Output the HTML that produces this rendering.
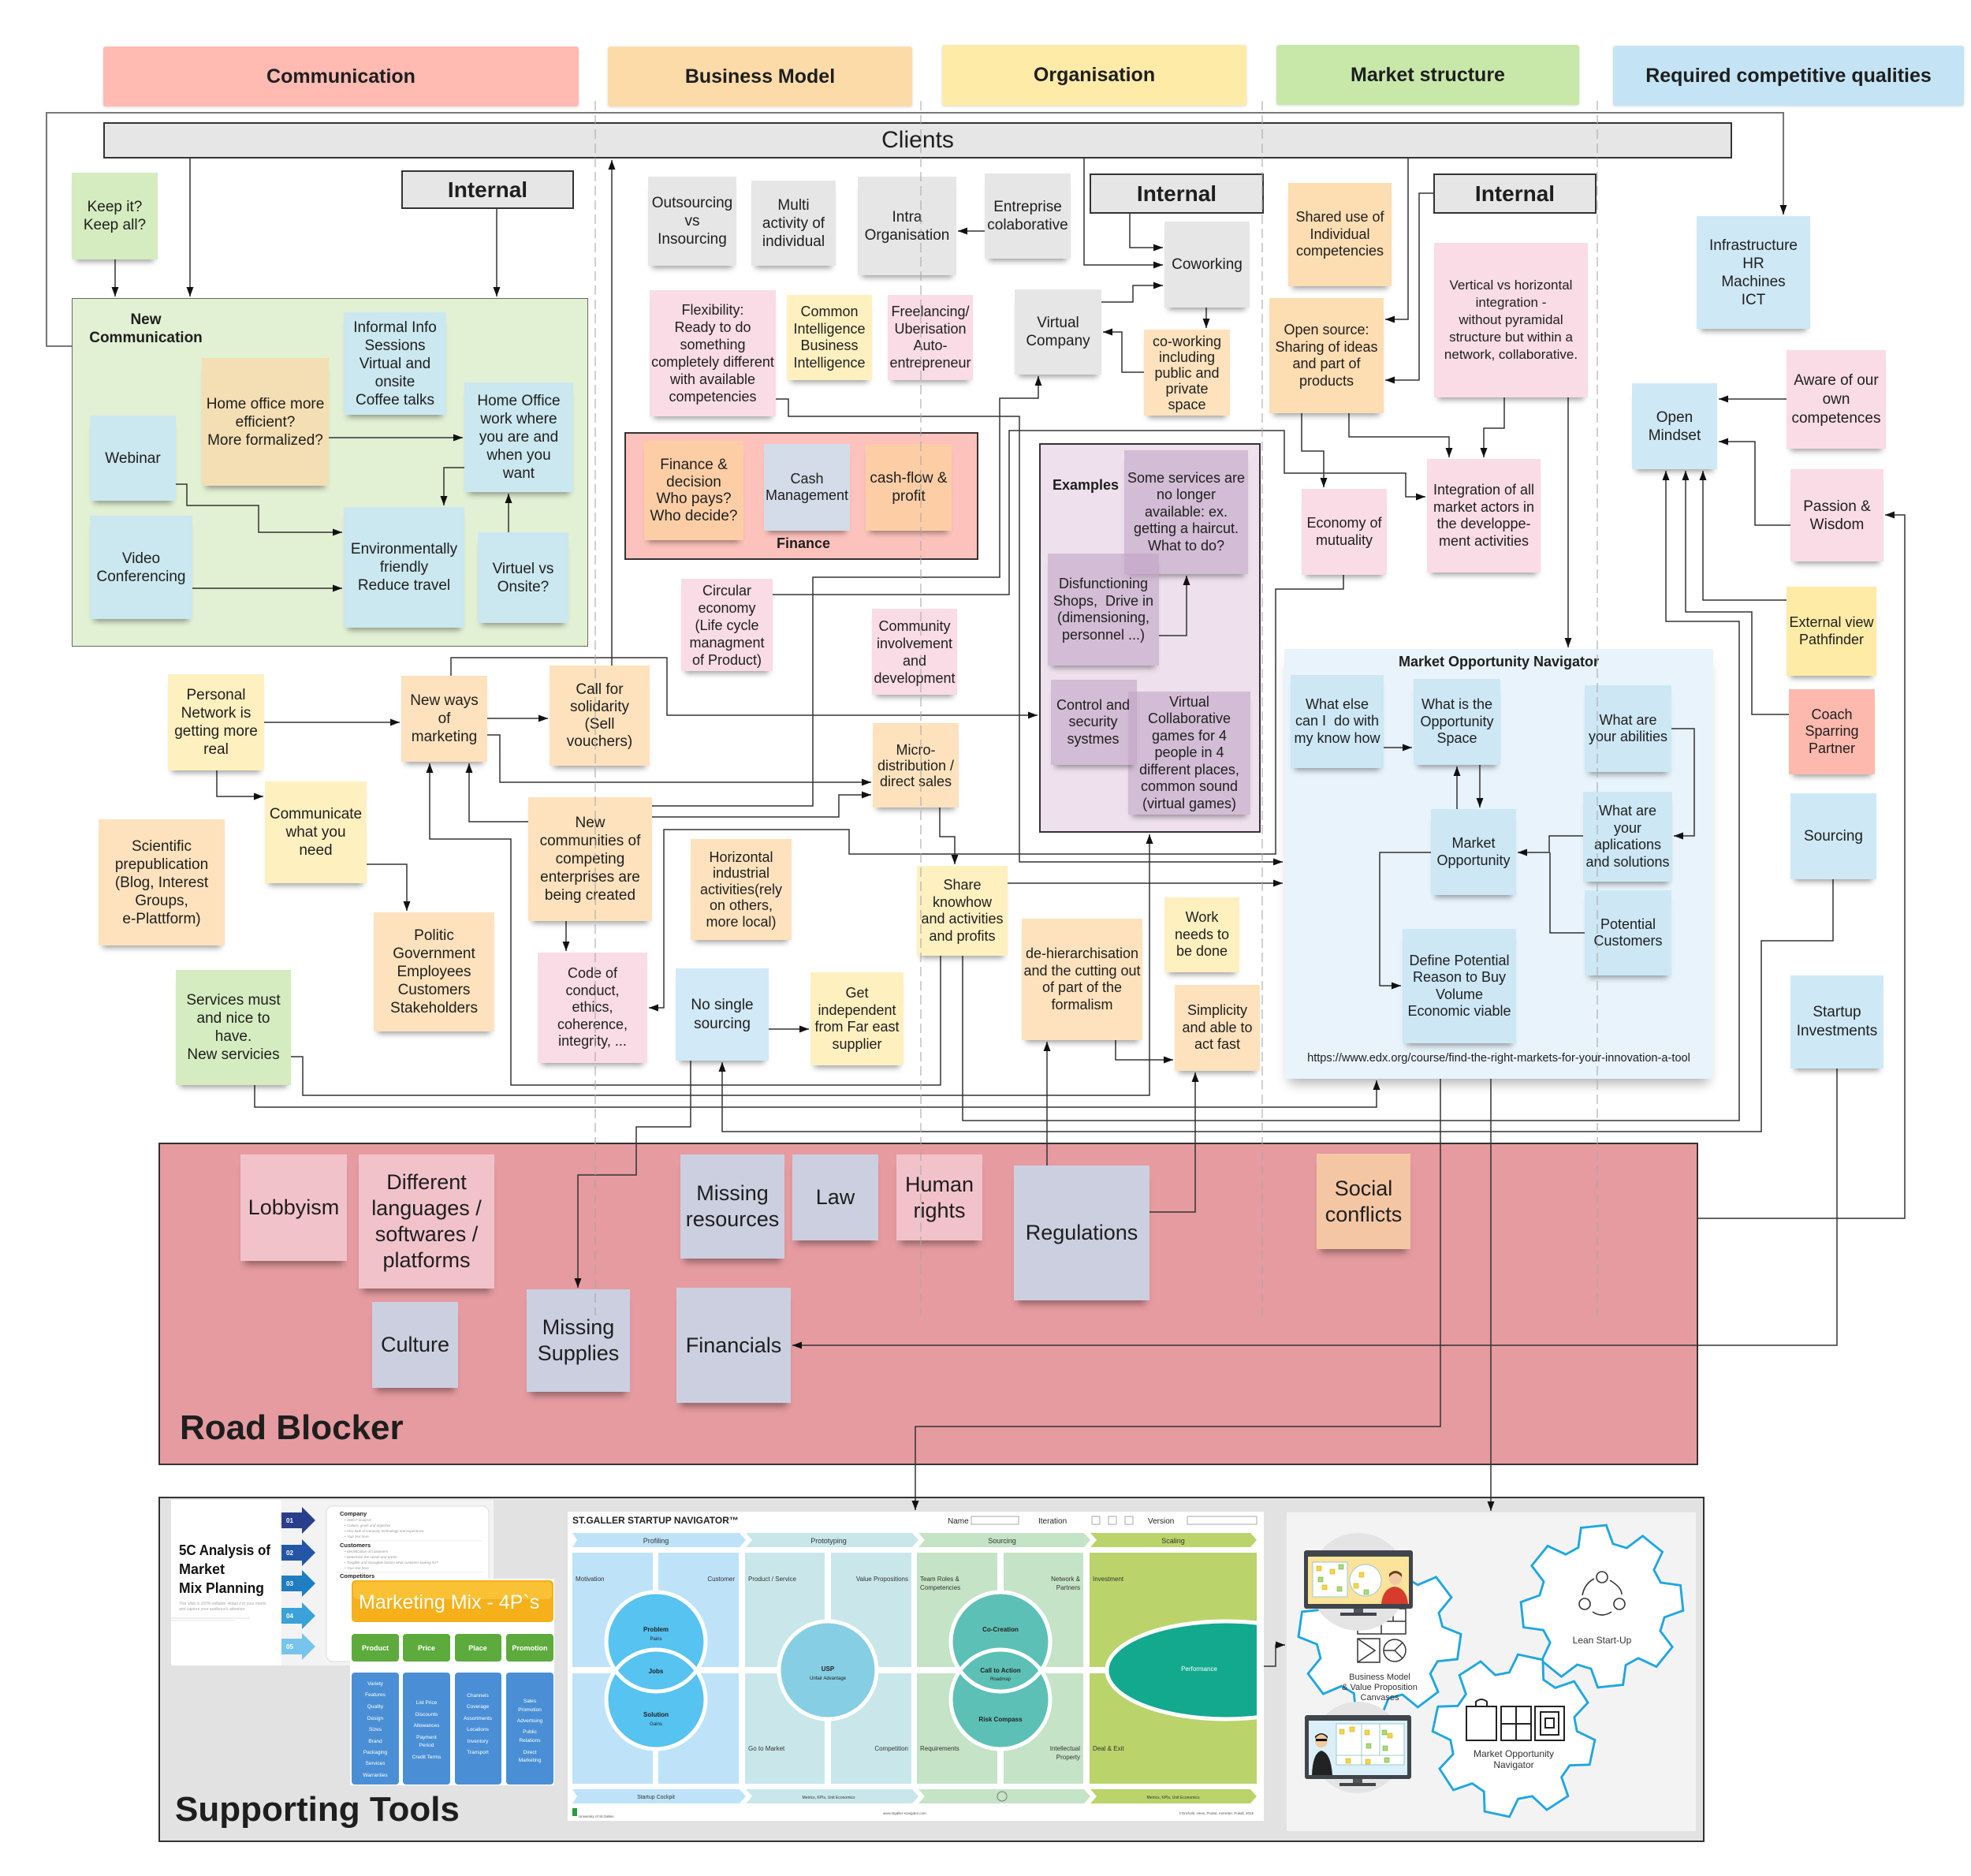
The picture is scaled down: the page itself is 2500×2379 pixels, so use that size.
<!DOCTYPE html>
<html><head><meta charset="utf-8">
<style>
*{box-sizing:border-box}
body{margin:0;width:2500px;height:2379px;position:relative;background:#fff;overflow:hidden;font-family:"Liberation Sans",Arial,sans-serif;color:#1e1e1e}
.c{position:absolute}
.n{position:absolute;display:flex;align-items:center;justify-content:center;text-align:center;font-size:18px;line-height:21.5px;white-space:nowrap;box-shadow:0 8px 7px -5px rgba(0,0,0,.38);z-index:3}
.a{font-size:19px;line-height:23px}
.r{font-size:27px;line-height:33px;box-shadow:0 10px 8px -5px rgba(0,0,0,.35)}
.h{position:absolute;display:flex;align-items:center;justify-content:center;font-weight:bold;font-size:25px;border-radius:3px;box-shadow:0 1px 3px rgba(0,0,0,.15)}
.i{position:absolute;display:flex;align-items:center;justify-content:center;font-weight:bold;font-size:28px;background:#e6e6e6;border:2px solid #333;z-index:3}
.g{background:#e6e6e6}.p{background:#f9dce5}.y{background:#fff0c0}.o{background:#fde2bd}.b{background:#cfe8f6}.v{background:rgba(194,166,198,.62)}.lb{background:#cbe7ef}.gr{background:#d5ecc0}.rp{background:#f2c2cb}.rg{background:#cccfe0}.mb{background:#cde7f5}
</style></head><body>

<!-- Headers -->
<div class="h" style="left:131px;top:59px;width:603px;height:76px;background:#ffbab2">Communication</div>
<div class="h" style="left:771px;top:59px;width:386px;height:76px;background:#fddba9">Business Model</div>
<div class="h" style="left:1195px;top:57px;width:386px;height:77px;background:#feeba8">Organisation</div>
<div class="h" style="left:1619px;top:57px;width:384px;height:76px;background:#c8e8aa">Market structure</div>
<div class="h" style="left:2046px;top:58px;width:445px;height:76px;background:#c4e4f6">Required competitive qualities</div>

<!-- Containers -->
<div class="c" style="left:91px;top:378px;width:655px;height:442px;background:#e2f0d4;border:1.5px solid #666;z-index:1"></div>
<div class="c" style="left:100px;top:394px;width:170px;text-align:center;font-weight:bold;font-size:19px;line-height:23px;z-index:3">New<br>Communication</div>
<div class="c" style="left:792px;top:548px;width:449px;height:162px;background:#fdc2bc;border:2px solid #333;z-index:1"></div>
<div class="c" style="left:969px;top:679px;width:100px;text-align:center;font-weight:bold;font-size:18px;z-index:3">Finance</div>
<div class="c" style="left:1318px;top:562px;width:281px;height:494px;background:#eee0ec;border:2px solid #333;z-index:1"></div>
<div class="c" style="left:1335px;top:605px;font-weight:bold;font-size:18px;z-index:3">Examples</div>
<div class="c" style="left:1629px;top:823px;width:544px;height:545px;background:#e8f3fb;box-shadow:0 12px 14px -6px rgba(0,0,0,.3);z-index:1"></div>
<div class="c" style="left:1629px;top:829px;width:544px;text-align:center;font-weight:bold;font-size:18px;z-index:3">Market Opportunity Navigator</div>
<div class="c" style="left:1629px;top:1334px;width:544px;text-align:center;font-size:14.6px;z-index:3">https://www.edx.org/course/find-the-right-markets-for-your-innovation-a-tool</div>
<div class="c" style="left:201px;top:1449px;width:1953px;height:409px;background:#e59ba0;border:2px solid #333;z-index:1"></div>
<div class="c" style="left:228px;top:1789px;font-weight:bold;font-size:44px;line-height:44px;z-index:3">Road Blocker</div>
<div class="c" style="left:201px;top:1898px;width:1961px;height:438px;background:#e2e2e2;border:2px solid #333;z-index:1"></div>
<div class="c" style="left:222px;top:2273px;font-weight:bold;font-size:44px;line-height:44px;z-index:3">Supporting Tools</div>

<!-- Clients & Internal -->
<div class="c" style="left:131px;top:155px;width:2066px;height:46px;background:#e6e6e6;border:2px solid #333;z-index:3;display:flex;align-items:center;justify-content:center;font-size:30px">Clients</div>
<div class="i" style="left:509px;top:216px;width:219px;height:49px">Internal</div>
<div class="i" style="left:1382px;top:220px;width:221px;height:51px">Internal</div>
<div class="i" style="left:1818px;top:220px;width:207px;height:51px">Internal</div>

<!-- Connectors -->
<svg class="c" style="left:0;top:0;z-index:2" width="2500" height="2379">
<defs><marker id="ar" viewBox="0 0 12 12" refX="12" refY="6" markerWidth="12" markerHeight="12" markerUnits="userSpaceOnUse" orient="auto"><path d="M0,1.5 L12,6 L0,10.5 z" fill="#111"/></marker></defs>
<path d="M91,439 H59 V143 H2262 V272" fill="none" stroke="#777" stroke-width="2" marker-end="url(#ar)"/>
<g fill="none" stroke="#333" stroke-width="1.5" marker-end="url(#ar)">
<path d="M241,201 V376"/>
<path d="M146,329 V376"/>
<path d="M630,265 V376"/>
<path d="M776,844 V203"/>
<path d="M1375,201 V336 H1475"/>
<path d="M1433,271 V314 H1475"/>
<path d="M1786,201 V405 H1757"/>
<path d="M1818,245 H1800 V482 H1757"/>
<path d="M1249,293 H1215"/>
<path d="M1397,383 H1437 V362 H1475"/>
<path d="M1530,390 V416"/>
<path d="M1451,472 H1423 V421 H1399"/>
<path d="M984,506 H1000 V528 H1293 V1093 H1627"/>
<path d="M827,1022 H1031 V732 H1268 V505 H1317 V477"/>
<path d="M980,754 H1280 V546 H1629 V600 H1783 V630 H1808"/>
<path d="M1470,806 H1505 V730"/>
<path d="M572,857 V834 H846 V907 H1316"/>
<path d="M1704,729 V747 H1618 V1083 H1077 V1052 H842 V1278 H823"/>
<path d="M1651,524 V572 H1679 V618"/>
<path d="M1711,524 V554 H1838 V580"/>
<path d="M1908,504 V543 H1882 V580"/>
<path d="M1989,504 V821"/>
<path d="M2266,506 H2180"/>
<path d="M2271,666 H2226 V560 H2180"/>
<path d="M2266,761 H2160 V597"/>
<path d="M2269,906 H2222 V776 H2138 V597"/>
<path d="M1221,1212 V1421 H2206 V788 H2113 V597"/>
<path d="M2154,1545 H2416 V653 H2391"/>
<path d="M2330,1355 V1706 H1005"/>
<path d="M2325,1115 V1193 H2234 V1435 H916 V1347"/>
<path d="M417,555 H587"/>
<path d="M589,593 H563 V641"/>
<path d="M645,675 V626"/>
<path d="M223,614 H237 V641 H328 V675 H434"/>
<path d="M244,746 H434"/>
<path d="M335,916 H507"/>
<path d="M275,977 V1010 H334"/>
<path d="M465,1096 H516 V1155"/>
<path d="M618,911 H695"/>
<path d="M618,932 H634 V992 H1105"/>
<path d="M670,1042 H595 V968"/>
<path d="M1193,1212 V1376 H648 V1064 H545 V968"/>
<path d="M827,1036 H1064 V1008 H1105"/>
<path d="M1192,1024 V1061 H1211 V1096"/>
<path d="M718,1168 V1206"/>
<path d="M975,1305 H1026"/>
<path d="M876,1345 V1429 H807 V1490 H733 V1633"/>
<path d="M369,1340 H384 V1389 H1458 V1058"/>
<path d="M323,1376 V1404 H1746 V1370"/>
<path d="M1278,1120 H1627"/>
<path d="M1415,1319 V1344 H1488"/>
<path d="M1328,1478 V1321"/>
<path d="M1458,1537 H1516 V1360"/>
<path d="M1827,1368 V1809 H1161 V1915"/>
<path d="M1891,1368 V1916"/>
<path d="M1755,948 H1791"/>
<path d="M1848,1026 V972"/>
<path d="M1877,970 V1024"/>
<path d="M2120,924 H2149 V1060 H2123"/>
<path d="M2008,1060 H1965 V1081 H1925"/>
<path d="M1815,1081 H1750 V1250 H1777"/>
<path d="M1603,2113 H1618 V2086 H1630"/>
</g>
<path d="M2010,1183 H1966 V1081" fill="none" stroke="#333" stroke-width="1.5"/>
</svg>

<!-- New Communication notes -->
<div class="n a gr" style="left:91px;top:219px;width:109px;height:110px">Keep it?<br>Keep all?</div>
<div class="n a lb" style="left:436px;top:396px;width:130px;height:130px">Informal Info<br>Sessions<br>Virtual and<br>onsite<br>Coffee talks</div>
<div class="n a" style="left:256px;top:454px;width:161px;height:162px;background:#f4deb3">Home office more<br>efficient?<br>More formalized?</div>
<div class="n a lb" style="left:114px;top:527px;width:109px;height:108px">Webinar</div>
<div class="n a lb" style="left:114px;top:654px;width:130px;height:131px">Video<br>Conferencing</div>
<div class="n a lb" style="left:589px;top:485px;width:138px;height:139px">Home Office<br>work where<br>you are and<br>when you<br>want</div>
<div class="n a lb" style="left:436px;top:643px;width:153px;height:153px">Environmentally<br>friendly<br>Reduce travel</div>
<div class="n a lb" style="left:606px;top:675px;width:115px;height:115px">Virtuel vs<br>Onsite?</div>

<!-- Business model / org top -->
<div class="n a g" style="left:822px;top:224px;width:112px;height:113px">Outsourcing<br>vs<br>Insourcing</div>
<div class="n a g" style="left:953px;top:229px;width:107px;height:108px">Multi<br>activity of<br>individual</div>
<div class="n a g" style="left:1088px;top:224px;width:125px;height:125px">Intra<br>Organisation</div>
<div class="n a g" style="left:1249px;top:220px;width:109px;height:108px">Entreprise<br>colaborative</div>
<div class="n a g" style="left:1477px;top:281px;width:108px;height:109px">Coworking</div>
<div class="n a g" style="left:1287px;top:367px;width:110px;height:108px">Virtual<br>Company</div>
<div class="n o" style="left:1451px;top:418px;width:109px;height:109px;line-height:20px">co-working<br>including<br>public and<br>private<br>space</div>
<div class="n p" style="left:824px;top:368px;width:160px;height:160px;line-height:22px">Flexibility:<br>Ready to do<br>something<br>completely different<br>with available<br>competencies</div>
<div class="n y" style="left:998px;top:374px;width:108px;height:108px">Common<br>Intelligence<br>Business<br>Intelligence</div>
<div class="n p" style="left:1126px;top:374px;width:108px;height:108px">Freelancing/<br>Uberisation<br>Auto-<br>entrepreneur</div>
<div class="n" style="left:817px;top:559px;width:126px;height:126px;background:#fdcea6;font-size:19px">Finance &amp;<br>decision<br>Who pays?<br>Who decide?</div>
<div class="n" style="left:969px;top:563px;width:109px;height:110px;background:#d3dce8">Cash<br>Management</div>
<div class="n" style="left:1098px;top:563px;width:109px;height:110px;background:#fdcea6;font-size:19px;line-height:23px">cash-flow &amp;<br>profit</div>
<div class="n p" style="left:864px;top:734px;width:116px;height:117px;line-height:22px">Circular<br>economy<br>(Life cycle<br>managment<br>of Product)</div>
<div class="n p" style="left:1106px;top:772px;width:108px;height:109px;line-height:22px">Community<br>involvement<br>and<br>development</div>
<div class="n o" style="left:1107px;top:917px;width:109px;height:107px;line-height:20px">Micro-<br>distribution /<br>direct sales</div>

<!-- Examples -->
<div class="n v" style="left:1426px;top:571px;width:157px;height:157px">Some services are<br>no longer<br>available: ex.<br>getting a haircut.<br>What to do?</div>
<div class="n v" style="left:1329px;top:702px;width:141px;height:142px;z-index:4">Disfunctioning<br>Shops,&nbsp; Drive in<br>(dimensioning,<br>personnel ...)</div>
<div class="n v" style="left:1431px;top:877px;width:155px;height:156px">Virtual<br>Collaborative<br>games for 4<br>people in 4<br>different places,<br>common sound<br>(virtual games)</div>
<div class="n v" style="left:1333px;top:862px;width:109px;height:108px;z-index:4;justify-content:flex-start;padding-left:7px">Control and<br>security<br>systmes</div>

<!-- Market structure -->
<div class="n" style="left:1634px;top:232px;width:131px;height:131px;background:#fdddb2">Shared use of<br>Individual<br>competencies</div>
<div class="n" style="left:1610px;top:378px;width:145px;height:146px;background:#fdddb2">Open source:<br>Sharing of ideas<br>and part of<br>products</div>
<div class="n p" style="left:1819px;top:308px;width:195px;height:196px;font-size:17px;line-height:22px">Vertical vs horizontal<br>integration -<br>without pyramidal<br>structure but within a<br>network, collaborative.</div>
<div class="n p" style="left:1651px;top:620px;width:108px;height:109px">Economy of<br>mutuality</div>
<div class="n p" style="left:1810px;top:582px;width:144px;height:144px">Integration of all<br>market actors in<br>the developpe-<br>ment activities</div>

<!-- Required competitive qualities -->
<div class="n a b" style="left:2152px;top:274px;width:144px;height:143px">Infrastructure<br>HR<br>Machines<br>ICT</div>
<div class="n a b" style="left:2070px;top:486px;width:108px;height:109px">Open<br>Mindset</div>
<div class="n a p" style="left:2266px;top:444px;width:126px;height:125px;line-height:24px">Aware of our<br>own<br>competences</div>
<div class="n a p" style="left:2271px;top:595px;width:118px;height:117px">Passion &amp;<br>Wisdom</div>
<div class="n" style="left:2266px;top:744px;width:114px;height:113px;background:#feeba6">External view<br>Pathfinder</div>
<div class="n" style="left:2269px;top:874px;width:109px;height:108px;background:#fdb9ae">Coach<br>Sparring<br>Partner</div>
<div class="n a b" style="left:2271px;top:1006px;width:109px;height:109px">Sourcing</div>
<div class="n a b" style="left:2271px;top:1237px;width:118px;height:118px;line-height:24px">Startup<br>Investments</div>

<!-- MON -->
<div class="n mb" style="left:1637px;top:856px;width:118px;height:118px">What else<br>can I&nbsp; do with<br>my know how</div>
<div class="n mb" style="left:1793px;top:861px;width:110px;height:109px">What is the<br>Opportunity<br>Space</div>
<div class="n mb" style="left:2010px;top:869px;width:110px;height:110px">What are<br>your abilities</div>
<div class="n mb" style="left:2008px;top:1004px;width:113px;height:114px">What are<br>your<br>aplications<br>and solutions</div>
<div class="n mb" style="left:2010px;top:1129px;width:110px;height:108px">Potential<br>Customers</div>
<div class="n mb" style="left:1815px;top:1026px;width:108px;height:109px">Market<br>Opportunity</div>
<div class="n mb" style="left:1779px;top:1178px;width:144px;height:145px">Define Potential<br>Reason to Buy<br>Volume<br>Economic viable</div>

<!-- Middle -->
<div class="n a y" style="left:213px;top:855px;width:122px;height:122px">Personal<br>Network is<br>getting more<br>real</div>
<div class="n a o" style="left:509px;top:857px;width:109px;height:109px">New ways<br>of<br>marketing</div>
<div class="n a o" style="left:697px;top:844px;width:127px;height:127px;line-height:22px">Call for<br>solidarity<br>(Sell<br>vouchers)</div>
<div class="n a y" style="left:336px;top:991px;width:129px;height:129px">Communicate<br>what you<br>need</div>
<div class="n a o" style="left:125px;top:1039px;width:160px;height:160px">Scientific<br>prepublication<br>(Blog, Interest<br>Groups,<br>e-Plattform)</div>
<div class="n a o" style="left:474px;top:1157px;width:153px;height:151px">Politic<br>Government<br>Employees<br>Customers<br>Stakeholders</div>
<div class="n a o" style="left:670px;top:1011px;width:157px;height:157px">New<br>communities of<br>competing<br>enterprises are<br>being created</div>
<div class="n p" style="left:682px;top:1208px;width:139px;height:140px">Code of<br>conduct,<br>ethics,<br>coherence,<br>integrity, ...</div>
<div class="n a gr" style="left:223px;top:1230px;width:146px;height:146px">Services must<br>and nice to<br>have.<br>New servicies</div>
<div class="n o" style="left:876px;top:1064px;width:128px;height:128px;line-height:20.5px">Horizontal<br>industrial<br>activities(rely<br>on others,<br>more local)</div>
<div class="n a" style="left:857px;top:1228px;width:118px;height:117px;background:#d2e9f7;line-height:24px">No single<br>sourcing</div>
<div class="n y" style="left:1028px;top:1233px;width:118px;height:118px">Get<br>independent<br>from Far east<br>supplier</div>
<div class="n y" style="left:1163px;top:1098px;width:115px;height:114px">Share<br>knowhow<br>and activities<br>and profits</div>
<div class="n o" style="left:1296px;top:1165px;width:153px;height:154px">de-hierarchisation<br>and the cutting out<br>of part of the<br>formalism</div>
<div class="n y" style="left:1477px;top:1138px;width:95px;height:95px">Work<br>needs to<br>be done</div>
<div class="n o" style="left:1490px;top:1249px;width:108px;height:109px">Simplicity<br>and able to<br>act fast</div>

<!-- Road blocker notes -->
<div class="n r rp" style="left:305px;top:1464px;width:135px;height:135px">Lobbyism</div>
<div class="n r rp" style="left:455px;top:1464px;width:172px;height:170px">Different<br>languages /<br>softwares /<br>platforms</div>
<div class="n r rg" style="left:863px;top:1464px;width:132px;height:132px">Missing<br>resources</div>
<div class="n r rg" style="left:1005px;top:1464px;width:109px;height:109px">Law</div>
<div class="n r rp" style="left:1137px;top:1464px;width:109px;height:109px">Human<br>rights</div>
<div class="n r rg" style="left:1286px;top:1478px;width:172px;height:171px">Regulations</div>
<div class="n r" style="left:1670px;top:1463px;width:119px;height:121px;background:#f5c6a4">Social<br>conflicts</div>
<div class="n r rg" style="left:472px;top:1651px;width:109px;height:109px">Culture</div>
<div class="n r rg" style="left:668px;top:1635px;width:131px;height:130px">Missing<br>Supplies</div>
<div class="n r rg" style="left:858px;top:1633px;width:145px;height:146px">Financials</div>

<!-- 5C card -->
<svg class="c" style="left:217px;top:1902px;z-index:3" width="409" height="210" font-family="Liberation Sans, Arial, sans-serif">
<rect width="409" height="210" fill="#fff"/>
<rect x="140" y="0" width="269" height="210" fill="#f3f3f3"/>
<text x="10" y="70" font-size="18" font-weight="bold" fill="#111" textLength="116" lengthAdjust="spacingAndGlyphs">5C Analysis of</text>
<text x="10" y="94" font-size="18" font-weight="bold" fill="#111" textLength="58" lengthAdjust="spacingAndGlyphs">Market</text>
<text x="10" y="118" font-size="18" font-weight="bold" fill="#111" textLength="108" lengthAdjust="spacingAndGlyphs">Mix Planning</text>
<text x="10" y="133" font-size="5" fill="#aaa" font-style="italic">This slide is 100% editable. Adapt it to your needs</text>
<text x="10" y="140" font-size="5" fill="#aaa" font-style="italic">and capture your audience's attention.</text>
<line x1="0" y1="150" x2="100" y2="150" stroke="#ddd"/>
<line x1="0" y1="153" x2="80" y2="153" stroke="#e6e6e6"/>
<rect x="197" y="8" width="206" height="197" rx="8" fill="#fff" stroke="#ddd"/>
<g fill="#222" font-size="7.5" font-weight="bold"><text x="214" y="20">Company</text><text x="214" y="60">Customers</text><text x="214" y="99">Competitors</text></g>
<g fill="#999" font-size="4.5" font-style="italic"><text x="220" y="27">• SWOT analysis</text><text x="220" y="34">• Culture, goals and objective</text><text x="220" y="41">• Also look at company technology and experience</text><text x="220" y="48">• Your text here</text><text x="220" y="67">• Identification of customers</text><text x="220" y="74">• Determine the needs and wants</text><text x="220" y="81">• Tangible and intangible factors what customer looking for?</text><text x="220" y="88">• Your text here</text></g>
<line x1="210" y1="52" x2="395" y2="52" stroke="#eee"/><line x1="210" y1="92" x2="395" y2="92" stroke="#eee"/>
<g font-size="8" fill="#fff" font-weight="bold">
<polygon points="140,16 166,16 166,9 183,26 166,43 166,36 140,36" fill="#2b3e8c"/><text x="146" y="29">01</text>
<polygon points="140,57 166,57 166,50 183,67 166,84 166,77 140,77" fill="#2356a6"/><text x="146" y="70">02</text>
<polygon points="140,96 166,96 166,89 183,106 166,123 166,116 140,116" fill="#1f7dc1"/><text x="146" y="109">03</text>
<polygon points="140,137 166,137 166,130 183,147 166,164 166,157 140,157" fill="#3aa1d9"/><text x="146" y="150">04</text>
<polygon points="140,176 166,176 166,169 183,186 166,203 166,196 140,196" fill="#77c5ec"/><text x="146" y="189">05</text>
</g>
</svg>

<!-- Marketing mix card -->
<svg class="c" style="left:444px;top:2002px;z-index:4" width="259" height="262" font-family="Liberation Sans, Arial, sans-serif">
<rect width="259" height="262" fill="#fff"/>
<rect x="2" y="2" width="256" height="53" rx="5" fill="#f5b01a"/>
<rect x="4" y="4" width="252" height="22" rx="5" fill="#fbc93f" opacity=".7"/>
<text x="11" y="38" font-size="25" fill="#fff">Marketing Mix - 4P`s</text>
<g fill="#5dab3c"><rect x="2" y="70" width="60" height="35" rx="4"/><rect x="67" y="70" width="60" height="35" rx="4"/><rect x="133" y="70" width="59" height="35" rx="4"/><rect x="198" y="70" width="60" height="35" rx="4"/></g>
<g fill="#fff" font-size="9" font-weight="bold" text-anchor="middle"><text x="32" y="91">Product</text><text x="97" y="91">Price</text><text x="162" y="91">Place</text><text x="228" y="91">Promotion</text></g>
<g fill="#4a8fd5"><rect x="2" y="119" width="60" height="142" rx="4"/><rect x="67" y="119" width="60" height="142" rx="4"/><rect x="133" y="119" width="59" height="142" rx="4"/><rect x="198" y="119" width="60" height="142" rx="4"/></g>
<g fill="#fff" font-size="6.5" text-anchor="middle">
<text x="32" y="135">Variety</text><text x="32" y="149">Features</text><text x="32" y="164">Quality</text><text x="32" y="179">Design</text><text x="32" y="193">Sizes</text><text x="32" y="208">Brand</text><text x="32" y="222">Packaging</text><text x="32" y="236">Services</text><text x="32" y="251">Warranties</text>
<text x="97" y="159">List Price</text><text x="97" y="174">Discounts</text><text x="97" y="188">Allowances</text><text x="97" y="203">Payment</text><text x="97" y="213">Period</text><text x="97" y="228">Credit Terms</text>
<text x="162" y="150">Channels</text><text x="162" y="164">Coverage</text><text x="162" y="179">Assortments</text><text x="162" y="193">Locations</text><text x="162" y="208">Inventory</text><text x="162" y="222">Transport</text>
<text x="228" y="157">Sales</text><text x="228" y="168">Promotion</text><text x="228" y="182">Advertising</text><text x="228" y="196">Public</text><text x="228" y="207">Relations</text><text x="228" y="222">Direct</text><text x="228" y="232">Marketing</text>
</g>
</svg>

<!-- St Galler navigator -->
<svg class="c" style="left:720px;top:1917px;z-index:3" width="883" height="392" viewBox="0 0 883 392" font-family="Liberation Sans, Arial, sans-serif">
<rect width="883" height="392" fill="#fff"/>
<text x="6" y="15" font-size="12" font-weight="bold" fill="#222">ST.GALLER STARTUP NAVIGATOR™</text>
<text x="482" y="15" font-size="10" fill="#222">Name</text><rect x="512" y="6" width="60" height="10" fill="none" stroke="#aaa"/>
<text x="597" y="15" font-size="10" fill="#222">Iteration</text>
<rect x="665" y="6" width="10" height="10" fill="none" stroke="#aaa"/><rect x="686" y="6" width="10" height="10" fill="none" stroke="#aaa"/><rect x="707" y="6" width="10" height="10" fill="none" stroke="#aaa"/>
<text x="736" y="15" font-size="10" fill="#222">Version</text><rect x="786" y="6" width="88" height="10" fill="none" stroke="#aaa"/>
<polygon points="6,27 218,27 226,36 218,45 6,45 12,36" fill="#bee3f8"/>
<polygon points="226,27 437,27 445,36 437,45 226,45 234,36" fill="#c9e7ea"/>
<polygon points="445,27 655,27 663,36 655,45 445,45 453,36" fill="#c5e3c6"/>
<polygon points="663,27 866,27 874,36 866,45 663,45 671,36" fill="#bbd36b"/>
<g font-size="9" fill="#333" text-anchor="middle"><text x="112" y="40">Profiling</text><text x="331" y="40">Prototyping</text><text x="551" y="40">Sourcing</text><text x="768" y="40">Scaling</text></g>
<rect x="6" y="52" width="102" height="293" fill="#bee3f8"/><rect x="115" y="52" width="102" height="293" fill="#bee3f8"/>
<rect x="225" y="52" width="101" height="293" fill="#c9e7ea"/><rect x="334" y="52" width="102" height="293" fill="#c9e7ea"/>
<rect x="443" y="52" width="102" height="293" fill="#c5e3c6"/><rect x="553" y="52" width="101" height="293" fill="#c5e3c6"/>
<rect x="662" y="52" width="212" height="293" fill="#bbd36b"/>
<rect x="0" y="197" width="883" height="8" fill="#fff"/>
<g font-size="8" fill="#333">
<text x="10" y="88">Motivation</text><text x="212" y="88" text-anchor="end">Customer</text>
<text x="229" y="88">Product / Service</text><text x="432" y="88" text-anchor="end">Value Propositions</text>
<text x="447" y="88">Team Roles &amp;</text><text x="447" y="99">Competencies</text><text x="650" y="88" text-anchor="end">Network &amp;</text><text x="650" y="99" text-anchor="end">Partners</text>
<text x="666" y="88">Investment</text>
<text x="229" y="303">Go to Market</text><text x="432" y="303" text-anchor="end">Competition</text>
<text x="447" y="303">Requirements</text><text x="650" y="303" text-anchor="end">Intellectual</text><text x="650" y="314" text-anchor="end">Property</text>
<text x="666" y="303">Deal &amp; Exit</text>
</g>
<circle cx="112" cy="165" r="63" fill="#56c3f0" stroke="#fff" stroke-width="5"/>
<circle cx="112" cy="238" r="63" fill="#56c3f0" stroke="#fff" stroke-width="5"/>
<circle cx="112" cy="165" r="63" fill="none" stroke="#fff" stroke-width="5"/>
<circle cx="330" cy="201" r="62" fill="#86cee4" stroke="#fff" stroke-width="5"/>
<circle cx="549" cy="165" r="63" fill="#5dc0b6" stroke="#fff" stroke-width="5"/>
<circle cx="549" cy="238" r="63" fill="#5dc0b6" stroke="#fff" stroke-width="5"/>
<circle cx="549" cy="165" r="63" fill="none" stroke="#fff" stroke-width="5"/>
<ellipse cx="835" cy="201" rx="151" ry="62" fill="#13a98e" stroke="#fff" stroke-width="5"/>
<rect x="874" y="20" width="9" height="372" fill="#fff"/>
<g font-size="8" fill="#222" text-anchor="middle">
<text x="112" y="152" font-weight="bold">Problem</text><text x="112" y="163" font-size="6">Pains</text>
<text x="112" y="205" font-weight="bold">Jobs</text>
<text x="112" y="260" font-weight="bold">Solution</text><text x="112" y="271" font-size="6">Gains</text>
<text x="330" y="202" font-weight="bold">USP</text><text x="330" y="213" font-size="6">Unfair Advantage</text>
<text x="549" y="152" font-weight="bold">Co-Creation</text>
<text x="549" y="204" font-weight="bold">Call to Action</text><text x="549" y="214" font-size="6">Roadmap</text>
<text x="549" y="266" font-weight="bold">Risk Compass</text>
<text x="801" y="202" fill="#fff">Performance</text>
</g>
<polygon points="6,352 218,352 226,361 218,370 6,370 12,361" fill="#bee3f8"/>
<polygon points="226,352 437,352 445,361 437,370 226,370 234,361" fill="#c9e7ea"/>
<polygon points="445,352 655,352 663,361 655,370 445,370 453,361" fill="#c5e3c6"/>
<polygon points="663,352 866,352 874,361 866,370 663,370 671,361" fill="#bbd36b"/>
<g font-size="7" fill="#333" text-anchor="middle"><text x="112" y="364">Startup Cockpit</text><text x="331" y="364" font-size="5">Metrics, KPIs, Unit Economics</text><text x="768" y="364" font-size="5">Metrics, KPIs, Unit Economics</text></g>
<circle cx="551" cy="361" r="6" fill="none" stroke="#777"/>
<g font-size="4.5" fill="#555"><text x="400" y="384">www.stgaller-navigator.com</text><text x="870" y="384" text-anchor="end">©Grichnik, Hess, Probst, Antretter, Pukall, 2018</text><text x="14" y="388">University of St.Gallen</text></g>
<rect x="6" y="376" width="6" height="10" fill="#2a9a3a"/>
</svg>

<!-- Right image: gears -->
<div class="c" style="left:1632px;top:1918px;width:519px;height:404px;background:#f4f3f4;z-index:3"></div>
<svg class="c" style="left:1632px;top:1918px;z-index:3" width="519" height="404" font-family="Liberation Sans, Arial, sans-serif">
<g fill="#fff" stroke="#1ea7e1" stroke-width="2.8">
<polygon transform="translate(118,156) scale(1.03) rotate(8)" points="75,-21.5 98.8,-15.6 98.8,15.6 75,21.5 68.2,37.8 80.9,58.8 58.8,80.9 37.8,68.2 21.5,75 15.6,98.8 -15.6,98.8 -21.5,75 -37.8,68.2 -58.8,80.9 -80.9,58.8 -68.2,37.8 -75,21.5 -98.8,15.6 -98.8,-15.6 -75,-21.5 -68.2,-37.8 -80.9,-58.8 -58.8,-80.9 -37.8,-68.2 -21.5,-75 -15.6,-98.8 15.6,-98.8 21.5,-75 37.8,-68.2 58.8,-80.9 80.9,-58.8 68.2,-37.8"/>
<polygon transform="translate(400,119) scale(1.03) rotate(-6)" points="75,-21.5 98.8,-15.6 98.8,15.6 75,21.5 68.2,37.8 80.9,58.8 58.8,80.9 37.8,68.2 21.5,75 15.6,98.8 -15.6,98.8 -21.5,75 -37.8,68.2 -58.8,80.9 -80.9,58.8 -68.2,37.8 -75,21.5 -98.8,15.6 -98.8,-15.6 -75,-21.5 -68.2,-37.8 -80.9,-58.8 -58.8,-80.9 -37.8,-68.2 -21.5,-75 -15.6,-98.8 15.6,-98.8 21.5,-75 37.8,-68.2 58.8,-80.9 80.9,-58.8 68.2,-37.8"/>
<polygon transform="translate(288,283) scale(1.03) rotate(12)" points="75,-21.5 98.8,-15.6 98.8,15.6 75,21.5 68.2,37.8 80.9,58.8 58.8,80.9 37.8,68.2 21.5,75 15.6,98.8 -15.6,98.8 -21.5,75 -37.8,68.2 -58.8,80.9 -80.9,58.8 -68.2,37.8 -75,21.5 -98.8,15.6 -98.8,-15.6 -75,-21.5 -68.2,-37.8 -80.9,-58.8 -58.8,-80.9 -37.8,-68.2 -21.5,-75 -15.6,-98.8 15.6,-98.8 21.5,-75 37.8,-68.2 58.8,-80.9 80.9,-58.8 68.2,-37.8"/>
</g>
<g fill="none" stroke="#333" stroke-width="1.5">
<rect x="90" y="122" width="61" height="32"/><line x1="90" y1="138" x2="151" y2="138"/><line x1="120" y1="138" x2="120" y2="154"/><line x1="135" y1="122" x2="135" y2="138"/>
<rect x="90" y="160" width="28" height="30"/><polyline points="90,160 112,175 90,190"/>
<circle cx="137" cy="175" r="14"/><line x1="123" y1="175" x2="137" y2="175"/><line x1="137" y1="175" x2="147" y2="165"/><line x1="137" y1="175" x2="147" y2="185"/>
</g>
<g font-size="11" fill="#333" text-anchor="middle"><text x="118" y="212">Business Model</text><text x="118" y="225">&amp; Value Proposition</text><text x="118" y="238">Canvases</text></g>
<circle cx="91" cy="88" r="62" fill="#e4e4e4"/>
<rect x="22" y="48" width="138" height="74" rx="3" fill="#40454b"/>
<rect x="27" y="56" width="128" height="60" fill="#fbe39a"/>
<rect x="33" y="63" width="44" height="44" fill="#fff" stroke="#9cc"/>
<circle cx="100" cy="86" r="20" fill="#fff" stroke="#9cc"/>
<g fill="#f7d44c" stroke="#c9a400" stroke-width=".5"><rect x="38" y="68" width="6" height="6"/><rect x="55" y="72" width="6" height="6"/><rect x="45" y="92" width="6" height="6"/><rect x="92" y="76" width="6" height="6"/><rect x="85" y="90" width="6" height="6"/></g>
<g fill="#a9dc73" stroke="#6a9e3a" stroke-width=".5"><rect x="66" y="66" width="6" height="6"/><rect x="40" y="82" width="6" height="6"/><rect x="64" y="94" width="6" height="6"/><rect x="98" y="98" width="6" height="6"/></g>
<path d="M120,116 Q122,96 137,94 Q152,96 154,116 z" fill="#d63b2b"/>
<circle cx="138" cy="84" r="8" fill="#f2c9a0"/><path d="M130,82 Q138,72 146,82 L146,78 Q138,70 130,78 z" fill="#6b3a1e"/>
<rect x="85" y="122" width="12" height="6" fill="#555"/><rect x="68" y="127" width="46" height="4" fill="#40454b"/>
<circle cx="90" cy="298" r="58" fill="#e4e4e4"/>
<rect x="23" y="257" width="135" height="81" rx="3" fill="#40454b"/>
<rect x="28" y="264" width="125" height="69" fill="#dbeff8"/>
<rect x="63" y="268" width="86" height="52" fill="#fff" stroke="#9cc"/>
<line x1="63" y1="308" x2="149" y2="308" stroke="#9cc"/><line x1="95" y1="268" x2="95" y2="320" stroke="#9cc"/><line x1="118" y1="268" x2="118" y2="308" stroke="#9cc"/>
<g fill="#f7d44c" stroke="#c9a400" stroke-width=".5"><rect x="67" y="275" width="6" height="6"/><rect x="80" y="272" width="6" height="6"/><rect x="99" y="276" width="6" height="6"/><rect x="128" y="280" width="6" height="6"/><rect x="75" y="312" width="6" height="6"/><rect x="100" y="313" width="6" height="6"/></g>
<g fill="#a9dc73" stroke="#6a9e3a" stroke-width=".5"><rect x="121" y="276" width="6" height="6"/><rect x="101" y="293" width="6" height="6"/><rect x="122" y="296" width="6" height="6"/><rect x="124" y="311" width="6" height="6"/></g>
<path d="M32,333 Q33,305 44,302 Q56,305 58,333 z" fill="#222"/>
<circle cx="44" cy="290" r="8" fill="#f2c9a0"/><rect x="37" y="287" width="14" height="3" fill="#111"/><path d="M36,287 Q44,276 52,287 L52,284 Q44,276 36,284 z" fill="#222"/>
<rect x="84" y="338" width="12" height="6" fill="#555"/><rect x="67" y="343" width="46" height="4" fill="#40454b"/>
<g fill="none" stroke="#333" stroke-width="1.6">
<circle cx="400" cy="82" r="7"/><circle cx="378" cy="116" r="7"/><circle cx="422" cy="116" r="7"/>
<path d="M410,86 Q425,95 425,104"/><path d="M412,126 Q400,134 388,126"/><path d="M375,105 Q378,90 390,84"/>
</g>
<text x="400" y="166" font-size="12" fill="#333" text-anchor="middle">Lean Start-Up</text>
<g fill="none" stroke="#222" stroke-width="2">
<rect x="228" y="246" width="38" height="43"/><path d="M240,246 V240 Q247,234 254,240 V246"/>
<rect x="272" y="246" width="38" height="43"/><line x1="291" y1="246" x2="291" y2="289"/><line x1="272" y1="268" x2="310" y2="268"/>
<rect x="315" y="246" width="37" height="43"/><rect x="322" y="253" width="23" height="29"/><rect x="328" y="261" width="11" height="12"/>
</g>
<g font-size="12" fill="#333" text-anchor="middle"><text x="288" y="310">Market Opportunity</text><text x="288" y="324">Navigator</text></g>
</svg>

<!-- Dashed separators -->
<svg class="c" style="left:0;top:0;z-index:5;pointer-events:none" width="2500" height="2379">
<g stroke="#a8a8a8" stroke-width="1.5" stroke-dasharray="12 6" opacity=".7">
<line x1="755" y1="128" x2="755" y2="1668"/>
<line x1="1168" y1="128" x2="1168" y2="1668"/>
<line x1="1601" y1="128" x2="1601" y2="1668"/>
<line x1="2026" y1="128" x2="2026" y2="1668"/>
</g>
</svg>
</body></html>
